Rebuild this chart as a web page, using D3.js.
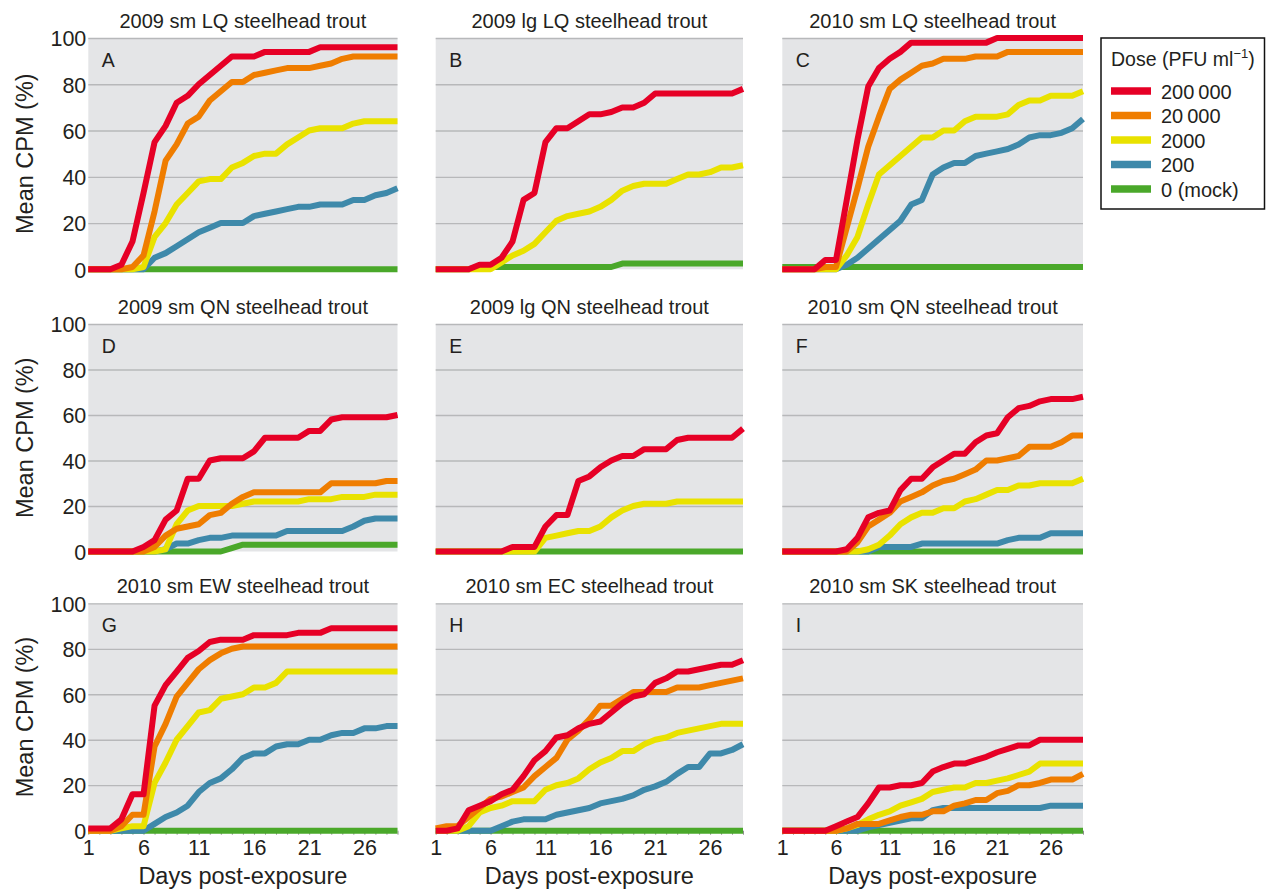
<!DOCTYPE html>
<html><head><meta charset="utf-8">
<script src="https://cdn.jsdelivr.net/npm/d3@7"></script>
<style>
body{margin:0;background:#fff}
svg text{font-family:"Liberation Sans",Arial,Helvetica,sans-serif;fill:#231f20}
</style>
</head><body>
<svg id="chart" width="1266" height="889"></svg>
<script>
// ---------- data ----------
const days = d3.range(1, 30);
const doseLabels = ["200\u2009000", "20\u2009000", "2000", "200", "0 (mock)"];
const doseColors = ["#e60026", "#ef7d00", "#e9e200", "#3e89aa", "#4aa82a"];
const yTicks = [0, 20, 40, 60, 80, 100];
const xTicks = [1, 6, 11, 16, 21, 26];
const titles = ["2009 sm LQ steelhead trout","2009 lg LQ steelhead trout","2010 sm LQ steelhead trout",
  "2009 sm QN steelhead trout","2009 lg QN steelhead trout","2010 sm QN steelhead trout",
  "2010 sm EW steelhead trout","2010 sm EC steelhead trout","2010 sm SK steelhead trout"];
const letters = ["A","B","C","D","E","F","G","H","I"];
const zeros = days.map(() => 0);

const A_200000 = [0,0,0,2,12,33,55,62,72,75,80,84,88,92,92,92,94,94,94,94,94,96,96,96,96,96,96,96,96];
const A_20000  = [0,0,0,0,1,6,25,47,54,63,66,73,77,81,81,84,85,86,87,87,87,88,89,91,92,92,92,92,92];
const A_2000   = [0,0,0,0,0,1,14,20,28,33,38,39,39,44,46,49,50,50,54,57,60,61,61,61,63,64,64,64,64];
const A_200    = [0,0,0,0,0,0,5,7,10,13,16,18,20,20,20,23,24,25,26,27,27,28,28,28,30,30,32,33,35];
const A_0      = zeros;

const B_200000 = [0,0,0,0,2,2,5,12,30,33,55,61,61,64,67,67,68,70,70,72,76,76,76,76,76,76,76,76,78];
const B_2000   = [0,0,0,0,0,0,3,6,8,11,16,21,23,24,25,27,30,34,36,37,37,37,39,41,41,42,44,44,45];
const B_0      = [0,0,0,0,1,1,1,1,1,1,1,1,1,1,1,1,1,2.5,2.5,2.5,2.5,2.5,2.5,2.5,2.5,2.5,2.5,2.5,2.5];

const C_200000 = [0,0,0,0,4,4,30,56,79,87,91,94,98,98,98,98,98,98,98,98,100,100,100,100,100,100,100,100,100];
const C_20000  = [0,0,0,0,1,1,18,35,53,66,78,82,85,88,89,91,91,91,92,92,92,94,94,94,94,94,94,94,94];
const C_2000   = [0,0,0,0,0,0,6,14,28,41,45,49,53,57,57,60,60,64,66,66,66,67,71,73,73,75,75,75,77];
const C_200    = [0,0,0,0,0,0,2,5,9,13,17,21,28,30,41,44,46,46,49,50,51,52,54,57,58,58,59,61,65];
const C_0      = [1,1,1,1,1,1,1,1,1,1,1,1,1,1,1,1,1,1,1,1,1,1,1,1,1,1,1,1,1];

const D_200000 = [0,0,0,0,0,2,5,14,18,32,32,40,41,41,41,44,50,50,50,50,53,53,58,59,59,59,59,59,60];
const D_20000  = [0,0,0,0,0,0,2,7,10,11,12,16,17,21,24,26,26,26,26,26,26,26,30,30,30,30,30,31,31];
const D_2000   = [0,0,0,0,0,0,0,1,12,18,20,20,20,20,21,22,22,22,22,22,23,23,23,24,24,24,25,25,25];
const D_200    = [0,0,0,0,0,0,0,1,3.5,3.5,5,6,6,7,7,7,7,7,9,9,9,9,9,9,11,13.5,14.5,14.5,14.5];
const D_0      = [0,0,0,0,0,0,0,0,0,0,0,0,0,1.5,3,3,3,3,3,3,3,3,3,3,3,3,3,3,3];

const E_200000 = [0,0,0,0,0,0,0,2,2,2,11,16,16,31,33,37,40,42,42,45,45,45,49,50,50,50,50,50,54];
const E_2000   = [0,0,0,0,0,0,0,0,0,0,6,7,8,9,9,11,15,18,20,21,21,21,22,22,22,22,22,22,22];
const E_0      = zeros;

const F_200000 = [0,0,0,0,0,0,1,6,15,17,18,27,32,32,37,40,43,43,48,51,52,59,63,64,66,67,67,67,68];
const F_20000  = [0,0,0,0,0,0,0,4,11,14,17,22,24,26,29,31,32,34,36,40,40,41,42,46,46,46,48,51,51];
const F_2000   = [0,0,0,0,0,0,0,0,1,3,7,12,15,17,17,19,19,22,23,25,27,27,29,29,30,30,30,30,32];
const F_200    = [0,0,0,0,0,0,0,0,0,2,2,2,2,3.5,3.5,3.5,3.5,3.5,3.5,3.5,3.5,5,6,6,6,8,8,8,8];
const F_0      = zeros;

const G_200000 = [1,1,1,5,16,16,55,64,70,76,79,83,84,84,84,86,86,86,86,87,87,87,89,89,89,89,89,89,89];
const G_20000  = [0,0,0,2,7,7,37,47,59,65,71,75,78,80,81,81,81,81,81,81,81,81,81,81,81,81,81,81,81];
const G_2000   = [0,0,0,1,2,2,21,30,40,46,52,53,58,59,60,63,63,65,70,70,70,70,70,70,70,70,70,70,70];
const G_200    = [0,0,0,0,0,0,3,6,8,11,17,21,23,27,32,34,34,37,38,38,40,40,42,43,43,45,45,46,46];
const G_0      = zeros;

const H_200000 = [0,0,1,9,11,13,16,18,24,31,35,41,42,45,47,48,52,56,59,60,65,67,70,70,71,72,73,73,75];
const H_20000  = [1,2,2,6,10,14,15,17,19,24,28,32,40,44,49,55,55,58,61,61,61,61,63,63,63,64,65,66,67];
const H_2000   = [0,0,0,2,8,10,11,13,13,13,18,20,21,23,27,30,32,35,35,38,40,41,43,44,45,46,47,47,47];
const H_200    = [0,0,0,0,0,0,2,4,5,5,5,7,8,9,10,12,13,14,15.5,18,19.5,21.5,25,28,28,34,34,35.5,38];
const H_0      = zeros;

const I_200000 = [0,0,0,0,0,2,4,6,12,19,19,20,20,21,26,28,29.5,29.5,31,32.5,34.5,36,37.5,37.5,40,40,40,40,40];
const I_20000  = [0,0,0,0,0,0,1,3,3,3,4.5,6,7,7,8.5,8.5,11,12,13.5,13.5,16.5,17.5,20,20,21,22.5,22.5,22.5,25];
const I_2000   = [0,0,0,0,0,0,1,2.5,5,7,8.5,11,12.5,14,17,18,19,19,21,21,22,23,24.5,26,29.5,29.5,29.5,29.5,29.5];
const I_200    = [0,0,0,0,0,0,0,0,1.5,2.5,3.5,4.5,5.5,5.5,9,10,10,10,10,10,10,10,10,10,10,11,11,11,11];
const I_0      = zeros;

// series per panel, in dose order (null = dose not tested)
const panelSeries = [
  [A_200000, A_20000, A_2000, A_200, A_0],
  [B_200000, null, B_2000, null, B_0],
  [C_200000, C_20000, C_2000, C_200, C_0],
  [D_200000, D_20000, D_2000, D_200, D_0],
  [E_200000, null, E_2000, null, E_0],
  [F_200000, F_20000, F_2000, F_200, F_0],
  [G_200000, G_20000, G_2000, G_200, G_0],
  [H_200000, H_20000, H_2000, H_200, H_0],
  [I_200000, I_20000, I_2000, I_200, I_0]
];

// ---------- layout ----------
const colX = [[88.3, 397.5], [435.7, 743], [782.3, 1083]];
const rowY = [[269.3, 38], [551.5, 324], [830.7, 603.3]];
const FONT = '"Liberation Sans",Arial,Helvetica,sans-serif';

const svg = d3.select("#chart");

panelSeries.forEach((series, i) => {
  const col = i % 3, row = Math.floor(i / 3);
  const x = d3.scaleLinear().domain([1, 29]).range(colX[col]);
  const y = d3.scaleLinear().domain([0, 100]).range(rowY[row]);
  const g = svg.append("g");

  // background
  g.append("rect")
    .attr("x", x(1)).attr("y", y(100))
    .attr("width", x(29) - x(1)).attr("height", y(0) - y(100))
    .attr("fill", "#e4e5e7");

  // gridlines
  const grid = g.append("g")
    .attr("transform", `translate(${x(1)},0)`)
    .call(d3.axisLeft(y).tickValues([20, 40, 60, 80, 100]).tickSize(-(x(29) - x(1))).tickFormat(""));
  grid.select(".domain").remove();
  grid.selectAll(".tick line").attr("stroke", "#b7b8ba").attr("stroke-width", 1.3);

  // y tick labels (left column only)
  if (col === 0) {
    const ya = g.append("g")
      .attr("transform", `translate(${x(1)},0)`)
      .call(d3.axisLeft(y).tickValues(yTicks).tickSize(0).tickPadding(2));
    ya.select(".domain").remove();
    ya.selectAll("text").attr("font-size", 21.5).attr("font-family", FONT).attr("fill", "#231f20")
      .attr("dy", "0.36em");
    g.append("text")
      .attr("transform", `translate(33,${(y(0) + y(100)) / 2}) rotate(-90)`)
      .attr("text-anchor", "middle")
      .attr("font-size", 23.5)
      .text("Mean CPM (%)");
  }

  // x axis (bottom row only)
  if (row === 2) {
    const xa = g.append("g")
      .attr("transform", `translate(0,${y(0)})`)
      .call(d3.axisBottom(x).tickValues(days).tickSize(4).tickPadding(5)
        .tickFormat(d => xTicks.includes(d) ? d : ""));
    xa.select(".domain").remove();
    xa.selectAll(".tick line").attr("stroke", "#8e8e8e").attr("stroke-width", 1);
    xa.selectAll("text").attr("font-size", 21.5).attr("font-family", FONT).attr("fill", "#231f20");
    g.append("text")
      .attr("x", (x(1) + x(29)) / 2).attr("y", 884)
      .attr("text-anchor", "middle")
      .attr("font-size", 23.5)
      .text("Days post-exposure");
  }

  // title & letter
  g.append("text")
    .attr("x", (x(1) + x(29)) / 2).attr("y", y(100) - 10.5)
    .attr("text-anchor", "middle")
    .attr("font-size", 20)
    .text(titles[i]);
  g.append("text")
    .attr("x", x(1) + 13.5).attr("y", y(100) + 29)
    .attr("font-size", 19.5)
    .text(letters[i]);

  // lines: draw lowest dose first so 200 000 is on top
  const line = d3.line().x((d, k) => x(days[k])).y(d => y(d));
  for (let s = series.length - 1; s >= 0; s--) {
    if (!series[s]) continue;
    g.append("path")
      .datum(series[s])
      .attr("d", line)
      .attr("fill", "none")
      .attr("stroke", doseColors[s])
      .attr("stroke-width", 6)
      .attr("stroke-linejoin", "round");
  }
});

// ---------- legend ----------
const lg = svg.append("g");
lg.append("rect").attr("x", 1101).attr("y", 38).attr("width", 163.5).attr("height", 171)
  .attr("fill", "#fff").attr("stroke", "#111").attr("stroke-width", 1.5);
const lt = lg.append("text").attr("x", 1111).attr("y", 66).attr("font-size", 19.5);
lt.append("tspan").text("Dose (PFU ml");
lt.append("tspan").attr("dy", -8).attr("font-size", 13).text("\u22121");
lt.append("tspan").attr("dy", 8).text(")");
const ly = d3.scaleLinear().domain([0, 4]).range([91, 189]);
doseLabels.forEach((lab, k) => {
  lg.append("line").attr("x1", 1111).attr("x2", 1151).attr("y1", ly(k)).attr("y2", ly(k))
    .attr("stroke", doseColors[k]).attr("stroke-width", 7.5);
  lg.append("text").attr("x", 1161).attr("y", ly(k) + 7.5).attr("font-size", 20).text(lab);
});
</script>
</body></html>
